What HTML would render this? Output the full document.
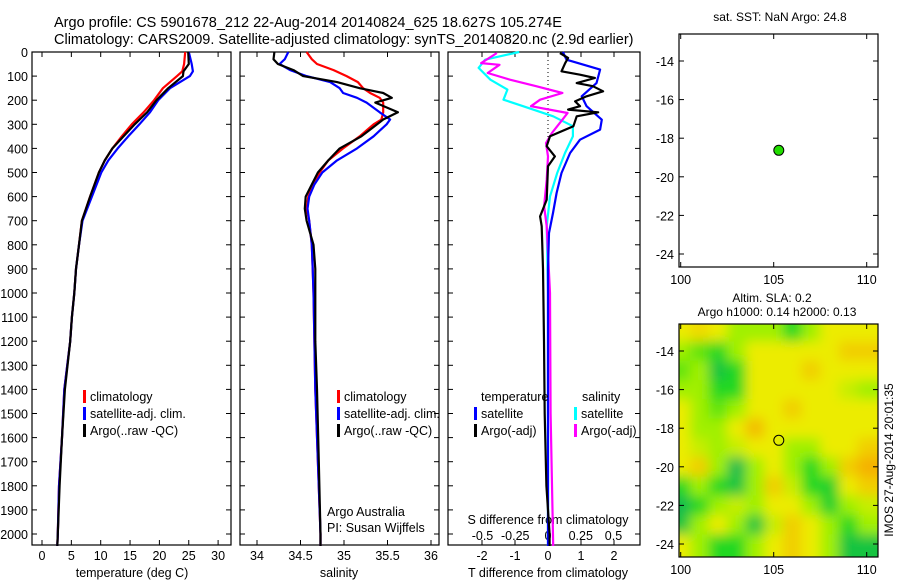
<!DOCTYPE html>
<html><head><meta charset="utf-8"><style>
body{margin:0;background:#fff;width:900px;height:580px;overflow:hidden}
svg{font-family:"Liberation Sans",sans-serif;display:block}
</style></head><body>
<svg id="s" width="900" height="580" xmlns="http://www.w3.org/2000/svg">
<defs><filter id="bl" x="0" y="0" width="1" height="1"><feGaussianBlur stdDeviation="6"/></filter>
<clipPath id="mc"><rect x="679" y="324" width="199" height="233"/></clipPath></defs>
<text x="54" y="27" font-size="14.5">Argo profile: CS 5901678_212 22-Aug-2014 20140824_625 18.627S 105.274E</text>
<text x="54" y="44" font-size="14.5">Climatology: CARS2009. Satellite-adjusted climatology: synTS_20140820.nc (2.9d earlier)</text>
<g id="g"></g>
</svg>
<script>
// ---- data ----
const tDepth=[0,50,80,100,150,200,250,300,350,400,450,500,600,700,800,900,1000,1100,1200,1400,1600,1800,2000,2050];
const tClim=[24.4,24.2,23.9,23.0,20.6,19.1,17.3,15.3,13.6,12.0,10.7,9.7,8.2,6.8,6.3,5.8,5.5,5.1,4.8,3.8,3.4,2.9,2.7,2.6];
const tSat=[25.0,25.5,25.7,25.2,21.8,19.8,18.4,16.6,14.7,12.9,11.3,10.1,8.5,6.9,6.3,5.8,5.5,5.1,4.8,3.8,3.4,2.9,2.7,2.6];
const tArgo=[24.9,25.0,24.1,24.0,21.5,19.5,17.9,15.8,13.9,12.0,10.7,9.7,8.2,6.8,6.3,5.8,5.5,5.1,4.8,3.9,3.4,3.0,2.7,2.6];
const sDepth=[0,30,50,75,100,125,150,170,190,210,250,280,300,350,400,450,500,550,600,650,700,800,900,1000,1200,1400,1700,2000,2050];
const sClim=[34.57,34.63,34.69,34.88,35.03,35.16,35.22,35.30,35.41,35.45,35.45,35.43,35.34,35.18,34.99,34.82,34.72,34.65,34.59,34.57,34.60,34.63,34.64,34.65,34.66,34.67,34.70,34.73,34.73];
const sSat=[34.36,34.32,34.26,34.38,34.57,34.84,34.95,34.99,35.15,35.26,35.41,35.53,35.49,35.34,35.15,34.92,34.75,34.66,34.60,34.58,34.60,34.63,34.64,34.65,34.66,34.67,34.70,34.73,34.73];
const sArgo=[34.20,34.19,34.24,34.42,34.53,34.92,35.18,35.45,35.55,35.36,35.62,35.45,35.38,35.20,34.95,34.82,34.70,34.63,34.56,34.55,34.57,34.65,34.67,34.67,34.67,34.69,34.71,34.73,34.73];
const dtSatD=[0,32,73,129,184,225,281,322,364,419,502,585,668,751,900,1200,1600,2050];
const dtSat=[0.45,0.56,1.58,1.47,1.02,1.17,1.63,1.58,0.97,0.67,0.41,0.26,0.15,0.03,0.0,0.0,0.0,0.0];
const dtArgoD=[4,25,46,80,94,108,129,142,163,184,205,225,239,250,267,308,350,391,433,474,613,682,723,900,1200,1500,1800,2000,2050];
const dtArgo=[0.36,0.61,0.52,0.41,0.97,1.42,0.87,1.36,1.67,1.17,0.82,0.97,0.61,1.52,0.87,0.77,0.06,-0.04,0.21,0.0,-0.04,-0.24,-0.19,-0.15,-0.12,-0.1,-0.05,0.05,0.05];
const dsSatD=[0,32,66,115,156,198,225,267,308,350,419,502,599,723,1000,1500,2050];
const dsSat=[-0.22,-0.48,-0.53,-0.44,-0.31,-0.34,-0.19,0.04,0.19,0.19,0.13,0.07,0.015,-0.01,0.0,0.0,0.0];
const dsArgoD=[4,46,53,87,115,142,170,198,225,253,281,336,378,433,530,640,723,1000,1500,2050];
const dsArgo=[-0.39,-0.51,-0.37,-0.46,-0.29,-0.09,0.11,-0.06,-0.13,0.15,0.11,0.03,-0.015,0.0,-0.01,-0.03,-0.01,0.015,0.02,0.04];
const depthTicks=[0,100,200,300,400,500,600,700,800,900,1000,1100,1200,1300,1400,1500,1600,1700,1800,1900,2000];
const tTicks=[0,5,10,15,20,25,30];
const sTicks=["34","34.5","35","35.5","36"];
const dtTicks=["-2","-1","0","1","2"];
const dsTicks=["-0.5","-0.25","0","0.25","0.5"];
const lonTicks=[100,105,110];
const latTicks=[-14,-16,-18,-20,-22,-24];
const floatLon=105.274, floatLat=-18.627;
// SLA grid rows lat -13..-24, cols lon 100..110 (0=dark green .. 4=orange)
const slaLats=[-13,-14,-15,-16,-17,-18,-19,-20,-21,-22,-23,-24];
const slaLons=[100,101,102,103,104,105,106,107,108,109,110];
const slaGrid=[
[3,3.3,3,2,2,2,1,2,3,3,3],
[2,1.5,1,2,3,3,3,3,3,3.5,3.5],
[1.5,2,0.5,1,3,3,3,3.5,3,3,3],
[2,2,1,1,3,3,3,3,3,2.5,2],
[3,2,1.5,2,3,3,3.5,3,3,3,3],
[3,2,2,3,3.8,3,3,3,3,3,3],
[3,2.5,2,2.5,3,3,2,2,3,3,3.5],
[3,3.5,2,0.3,2,3,2,1,2,3.5,4],
[1,2,1,0.5,2,3.5,2.5,1,0.8,3,3.5],
[0.3,1,2,2.5,2,3,3,2,0.8,2,2.5],
[0.5,2,3,2,0.5,2.5,3.5,3,2,1,2],
[3,2,1,1,2,3,3.5,3,2,0.5,0.5]];
// ---- helpers ----
const NS="http://www.w3.org/2000/svg";const G=document.getElementById('g');
function mk(t,a,p){const e=document.createElementNS(NS,t);for(const k in a)e.setAttribute(k,a[k]);(p||G).appendChild(e);return e;}
const Y0=52,YB=545;const yD=d=>Y0+d*0.241;
const xT=v=>42+v*5.87, xS=v=>257+(v-34)*87, xDT=v=>548+v*33, xDS=v=>548+v*131;
const xLon=v=>680.7+(v-100)*18.6, yLat1=v=>61+(-14-v)*19.3, yLat2=v=>351+(-14-v)*19.3;
function frame(x0,x1,y0,y1,name){const r=mk('rect',{x:x0,y:y0,width:x1-x0,height:y1-y0,fill:'none',stroke:'#000','stroke-width':1.2});

}
function line(xs,ds,fx,col,name,w){const pts=xs.map((v,i)=>fx(v).toFixed(1)+','+yD(ds[i]).toFixed(1)).join(' ');
const p=mk('polyline',{points:pts,fill:'none',stroke:col,'stroke-width':w||2.2,'stroke-linejoin':'round'});

}
function txt(x,y,s,anch,name,fs){const t=mk('text',{x:x,y:y,'font-size':fs||12.5,'text-anchor':anch||'start'});t.textContent=s;

return t;}
function vtick(x0,x1,y){mk('line',{x1:x0,y1:y,x2:x0+5,y2:y,stroke:'#000'});mk('line',{x1:x1,y1:y,x2:x1-5,y2:y,stroke:'#000'});}
function htick(x,y0,y1){mk('line',{x1:x,y1:y0,x2:x,y2:y0+5,stroke:'#000'});mk('line',{x1:x,y1:y1,x2:x,y2:y1-5,stroke:'#000'});}
const P=[[32,231],[240,439],[448,640]];
P.forEach((p,i)=>{frame(p[0],p[1],Y0,YB,'profile-panel-'+(i+1));depthTicks.forEach(d=>vtick(p[0],p[1],yD(d)));});
depthTicks.forEach(d=>txt(28,yD(d)+5,String(d),'end','depth-tick-label'));
tTicks.forEach(v=>{htick(xT(v),Y0,YB);txt(xT(v),560,String(v),'middle','temp-tick-label');});
txt(132,577,'temperature (deg C)','middle','x-axis-title-temperature');
sTicks.forEach(v=>{htick(xS(+v),Y0,YB);txt(xS(+v),560,v,'middle','salinity-tick-label');});
txt(339,577,'salinity','middle','x-axis-title-salinity');
dtTicks.forEach(v=>{htick(xDT(+v),Y0,YB);txt(xDT(+v),560,v,'middle','t-diff-tick-label');});
dsTicks.forEach(v=>{txt(xDS(+v),540,v,'middle','s-diff-tick-label');});
txt(548,577,'T difference from climatology','middle','x-axis-title-t-diff');
txt(548,524,'S difference from climatology','middle','s-diff-axis-title');
mk('line',{x1:548,y1:Y0,x2:548,y2:yD(360),stroke:'#000','stroke-dasharray':'1,3'});
line(tClim,tDepth,xT,'#f00','temp-climatology-line');
line(tSat,tDepth,xT,'#00f','temp-satellite-line');
line(tArgo,tDepth,xT,'#000','temp-argo-line');
line(sClim,sDepth,xS,'#f00','sal-climatology-line');
line(sSat,sDepth,xS,'#00f','sal-satellite-line');
line(sArgo,sDepth,xS,'#000','sal-argo-line');
line(dsSat,dsSatD,xDS,'#0ff','s-diff-satellite-line');
line(dsArgo,dsArgoD,xDS,'#f0f','s-diff-argo-line');
line(dtSat,dtSatD,xDT,'#00f','t-diff-satellite-line');
line(dtArgo,dtArgoD,xDT,'#000','t-diff-argo-line');
function leg(x,y,col,s,name){mk('rect',{x:x,y:y-11,width:3,height:13,fill:col});txt(x+7,y,s,'start',name);}
[['#f00','climatology'],['#00f','satellite-adj. clim.'],['#000','Argo(..raw -QC)']].forEach((l,i)=>leg(83,401+i*17,l[0],l[1],'legend-entry-temp'));
[['#f00','climatology'],['#00f','satellite-adj. clim.'],['#000','Argo(..raw -QC)']].forEach((l,i)=>leg(337,401+i*17,l[0],l[1],'legend-entry-sal'));
txt(481,401,'temperature','start','legend-header-temperature');txt(582,401,'salinity','start','legend-header-salinity');
leg(474,418,'#00f','satellite','legend-t-satellite');leg(474,435,'#000','Argo(-adj)','legend-t-argo');
leg(574,418,'#0ff','satellite','legend-s-satellite');leg(574,435,'#f0f','Argo(-adj)','legend-s-argo');
txt(327,516,'Argo Australia','start','credit-argo-australia');txt(327,532,'PI: Susan Wijffels','start','credit-pi');
frame(679,878,34,267,'sst-map-frame');
txt(780,21,'sat. SST: NaN Argo: 24.8','middle','sst-map-title',12);
lonTicks.forEach(v=>{htick(xLon(v),34,267);txt(xLon(v),284,String(v),'middle','sst-lon-label');});
latTicks.forEach(v=>{vtick(679,878,yLat1(v));txt(674,yLat1(v)+5,String(v),'end','sst-lat-label');});
const c1=mk('circle',{cx:xLon(floatLon),cy:yLat1(floatLat),r:5,fill:'#22dd00',stroke:'#000','stroke-width':1});


const stops=[[16,176,96],[32,216,32],[160,240,0],[236,236,0],[245,176,0]];
function col(v){const i=Math.min(3,Math.floor(v)),f=v-i,a=stops[i],b=stops[i+1];return 'rgb('+a.map((c,k)=>Math.round(c+(b[k]-c)*f)).join(',')+')';}
const hg=mk('g',{'clip-path':'url(#mc)'});const hb=mk('g',{filter:'url(#bl)'},hg);


slaLats.forEach((la,r)=>slaLons.forEach((lo,c)=>{const x=xLon(lo-0.5),y=yLat2(la+0.5);
const cell=mk('rect',{x:x-(c==0?20:0),y:y-(r==0?20:0),width:18.6+1+(c==0||c==10?20:0),height:19.3+1+(r==0||r==11?20:0),fill:col(slaGrid[r][c])},hb);

}));
frame(679,878,324,557,'sla-map-frame');
txt(772,302,'Altim. SLA: 0.2','middle','sla-title',12);
txt(777,316,'Argo h1000: 0.14 h2000: 0.13','middle','sla-subtitle',12);
lonTicks.forEach(v=>{htick(xLon(v),324,557);txt(xLon(v),574,String(v),'middle','sla-lon-label');});
latTicks.forEach(v=>{vtick(679,878,yLat2(v));txt(674,yLat2(v)+5,String(v),'end','sla-lat-label');});
const c2=mk('circle',{cx:xLon(floatLon),cy:yLat2(floatLat),r:5,fill:'none',stroke:'#000','stroke-width':1});


const rt=txt(0,0,'IMOS 27-Aug-2014 20:01:35','middle','imos-timestamp',12);rt.setAttribute('transform','translate(893,460) rotate(-90)');
</script>
</body></html>
